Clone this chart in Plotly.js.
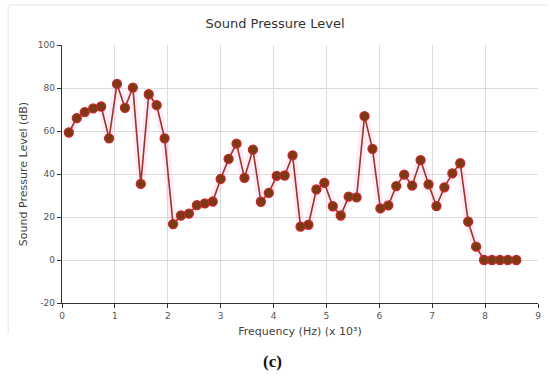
<!DOCTYPE html>
<html>
<head>
<meta charset="utf-8">
<script src="https://cdn.plot.ly/plotly-3.0.1.min.js"></script>
<style>html,body{margin:0;padding:0;background:#fff;}#chart{width:550px;height:384px;}</style>
</head>
<body>
<div id="chart"></div>
<script>
const freqKHz = [0.13,0.28,0.43,0.59,0.74,0.89,1.04,1.19,1.34,1.49,1.64,1.79,1.94,2.10,2.25,2.40,2.55,2.70,2.85,3.00,
  3.15,3.30,3.45,3.61,3.76,3.91,4.06,4.21,4.36,4.51,4.66,4.81,4.96,5.12,5.27,5.42,5.57,5.72,5.87,6.02,
  6.17,6.32,6.47,6.62,6.78,6.93,7.08,7.23,7.38,7.53,7.68,7.83,7.98,8.13,8.28,8.43,8.59];
const splDb = [59.3,66,68.8,70.5,71.4,56.6,81.9,70.8,80.2,35.4,77.1,72,56.6,16.7,20.7,21.6,25.5,26.3,27.2,37.7,
  47,54.1,38.2,51.3,27.1,31.2,39.1,39.3,48.7,15.5,16.4,32.8,35.9,25,20.7,29.5,29.1,66.9,51.7,24,
  25.4,34.4,39.7,34.6,46.5,35.2,25.1,33.8,40.3,45,17.8,6.2,0,0,0,0,0];
const xTicks = [0,1,2,3,4,5,6,7,8,9];
const yTicks = [-20,0,20,40,60,80,100];

const traces = [
  {x: freqKHz, y: splDb, mode: 'lines', line: {color: 'rgba(255,160,225,0.22)', width: 8}, hoverinfo: 'skip', showlegend: false},
  {x: freqKHz, y: splDb, mode: 'lines+markers', line: {color: '#9a3424', width: 1.6},
   marker: {size: 9, color: '#7a3a14', line: {color: '#c4282a', width: 1.3}}, showlegend: false}
];

const layout = {
  width: 550, height: 384,
  margin: {l: 62, r: 12, t: 45, b: 81},
  paper_bgcolor: '#fff', plot_bgcolor: '#fff',
  font: {family: 'DejaVu Sans, sans-serif', color: '#444'},
  title: {text: 'Sound Pressure Level', x: 0.5, xanchor: 'center', y: 0.94, yanchor: 'middle', font: {size: 13, color: '#333'}},
  xaxis: {range: [0, 9], tickvals: xTicks, ticktext: xTicks.map(String), showgrid: true, gridcolor: '#dcdcdc', gridwidth: 1,
    zeroline: false, showline: true, linecolor: '#333', linewidth: 1.2, ticks: 'outside', ticklen: 4, tickcolor: '#333',
    tickfont: {size: 9, color: '#555'},
    title: {text: 'Frequency (Hz) (x 10³)', font: {size: 11, color: '#444'}, standoff: 7}},
  yaxis: {range: [-20, 100], tickvals: yTicks, ticktext: yTicks.map(String), showgrid: true, gridcolor: '#dcdcdc', gridwidth: 1,
    zeroline: false, showline: true, linecolor: '#333', linewidth: 1.2, ticks: 'outside', ticklen: 4, tickcolor: '#333',
    tickfont: {size: 9, color: '#555'},
    title: {text: 'Sound Pressure Level (dB)', font: {size: 11, color: '#444'}, standoff: 8}},
  shapes: [
    {type: 'line', xref: 'paper', yref: 'paper', x0: -0.11, x1: 1.02, y0: 1.155, y1: 1.155, line: {color: '#e6e6e6', width: 1}},
    {type: 'line', xref: 'paper', yref: 'paper', x0: -0.113, x1: -0.113, y0: 1.155, y1: -0.12, line: {color: '#e6e6e6', width: 1}}
  ],
  annotations: [
    {text: '<b>(c)</b>', xref: 'paper', yref: 'paper', x: 0.443, y: -0.228, xanchor: 'center', yanchor: 'middle', showarrow: false,
     font: {family: 'Liberation Serif, serif', size: 17, color: '#111'}}
  ]
};

Plotly.newPlot('chart', traces, layout, {staticPlot: true, displayModeBar: false});
</script>
</body>
</html>
